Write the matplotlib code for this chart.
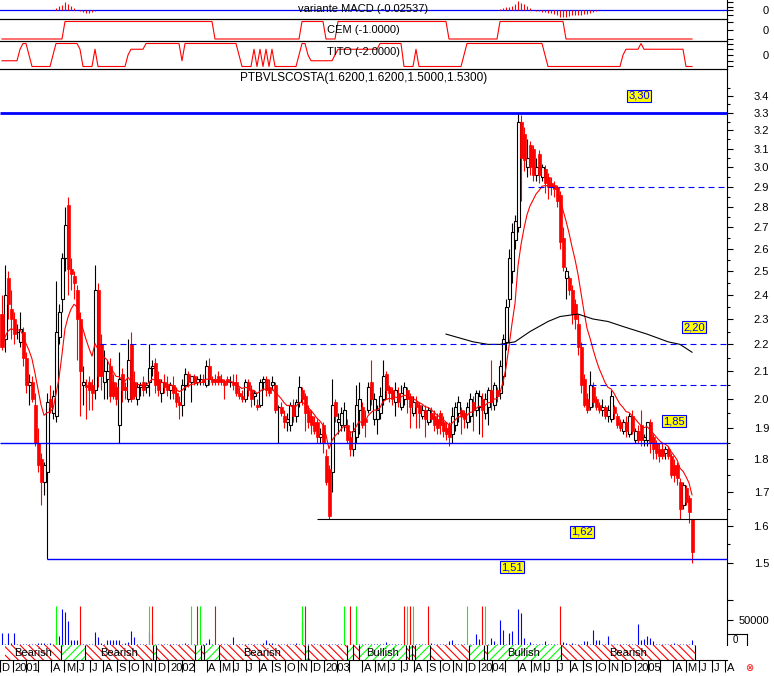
import numpy as np
import pandas as pd
import matplotlib
matplotlib.use("Agg")
import matplotlib.pyplot as plt
from matplotlib.patches import Rectangle
from matplotlib.lines import Line2D
from matplotlib.ticker import NullFormatter

plt.rcParams['font.family'] = ['Liberation Sans', 'DejaVu Sans']
plt.rcParams['hatch.linewidth'] = 0.8

W, H = 774, 676
RED, BLUE, GREEN = '#FF0000', '#0000FF', '#00FF00'

# semanas a partir de 18/12/2000 (semana 0)
start = pd.Timestamp('2000-12-18')

open_ = [
    2.32, 2.22, 2.47, 2.34, 2.30, 2.25, 2.21, 2.25, 2.15, 2.05,
    2.06, 1.98, 1.85, 1.80, 1.73, 1.76, 2.00, 1.95, 1.94, 2.23,
    2.38, 2.56, 2.81, 2.51, 2.48, 2.42, 2.30, 2.05, 2.05, 2.06,
    2.05, 2.03, 2.42, 2.20, 2.06, 2.07, 2.12, 2.06, 2.04, 1.91,
    2.09, 2.04, 2.00, 2.20, 2.06, 2.00, 2.04, 2.06, 2.04, 2.06,
    2.11, 2.13, 2.07, 2.02, 2.06, 2.05, 2.03, 2.05, 2.02, 1.99,
    1.98, 2.05, 2.09, 2.06, 2.08, 2.06, 2.07, 2.07, 2.05, 2.12,
    2.07, 2.07, 2.08, 2.07, 2.06, 2.07, 2.06, 2.06, 2.06, 2.02,
    2.01, 2.00, 2.06, 2.03, 2.01, 1.98, 1.98, 2.06, 2.07, 2.04,
    2.05, 2.05, 1.97, 1.97, 1.94, 1.92, 1.91, 1.98, 1.94, 1.99,
    2.03, 2.01, 1.96, 1.94, 1.92, 1.92, 1.87, 1.91, 1.81, 1.77,
    1.76, 1.99, 1.92, 1.91, 1.91, 1.91, 1.87, 1.83, 1.87, 1.96,
    1.97, 1.93, 1.96, 2.06, 1.93, 1.93, 1.95, 2.00, 2.09, 2.04,
    2.03, 1.99, 2.02, 1.97, 2.00, 2.03, 2.01, 1.95, 1.99, 1.98,
    1.94, 1.96, 1.92, 1.95, 1.94, 1.93, 1.95, 1.92, 1.90, 1.91,
    1.88, 1.91, 1.95, 1.96, 1.95, 1.92, 1.94, 1.99, 1.96, 1.97,
    2.00, 1.95, 1.97, 2.03, 1.98, 2.03, 2.02, 2.08, 2.21, 2.38,
    2.50, 2.64, 2.70, 3.25, 3.18, 3.00, 3.12, 3.10, 2.96, 3.07,
    2.95, 2.99, 2.95, 2.92, 2.91, 2.90, 2.86, 2.65, 2.47, 2.47,
    2.42, 2.36, 2.28, 2.19, 2.07, 2.00, 1.97, 2.04, 2.00, 1.98,
    1.96, 1.97, 1.94, 1.93, 1.97, 1.94, 1.92, 1.89, 1.92, 1.88,
    1.94, 1.86, 1.89, 1.91, 1.86, 1.86, 1.92, 1.87, 1.85, 1.83,
    1.83, 1.82, 1.83, 1.81, 1.78, 1.78, 1.73, 1.66, 1.71, 1.68,
    1.62,
]
high = [
    2.40, 2.53, 2.50, 2.42, 2.33, 2.28, 2.33, 2.27, 2.17, 2.09,
    2.08, 2.02, 1.90, 1.82, 1.79, 2.02, 2.05, 2.03, 2.46, 2.36,
    2.58, 2.80, 2.85, 2.56, 2.50, 2.44, 2.33, 2.12, 2.07, 2.08,
    2.07, 2.53, 2.45, 2.24, 2.18, 2.14, 2.15, 2.09, 2.06, 2.17,
    2.11, 2.06, 2.22, 2.25, 2.10, 2.06, 2.06, 2.08, 2.06, 2.20,
    2.14, 2.15, 2.10, 2.07, 2.09, 2.08, 2.06, 2.08, 2.04, 2.01,
    2.07, 2.11, 2.10, 2.08, 2.09, 2.08, 2.09, 2.09, 2.14, 2.15,
    2.08, 2.09, 2.10, 2.09, 2.07, 2.08, 2.08, 2.09, 2.09, 2.04,
    2.03, 2.07, 2.07, 2.05, 2.03, 2.00, 2.07, 2.08, 2.08, 2.07,
    2.08, 2.06, 1.98, 1.99, 1.96, 1.95, 1.99, 2.00, 2.00, 2.08,
    2.04, 2.02, 1.98, 1.96, 1.94, 1.93, 1.90, 1.92, 1.83, 1.78,
    2.07, 2.00, 1.95, 1.97, 1.99, 1.93, 1.89, 1.92, 2.05, 2.06,
    1.99, 1.96, 2.06, 2.14, 2.02, 1.98, 2.04, 2.14, 2.10, 2.05,
    2.04, 2.06, 2.04, 2.05, 2.06, 2.04, 2.02, 2.01, 2.01, 1.99,
    1.98, 1.98, 1.97, 1.97, 1.96, 1.95, 1.96, 1.94, 1.92, 1.92,
    1.97, 1.99, 2.01, 1.97, 1.96, 1.99, 2.02, 2.01, 2.03, 2.03,
    2.02, 2.02, 2.04, 2.14, 2.06, 2.04, 2.14, 2.24, 2.38, 2.60,
    2.72, 2.76, 3.30, 3.29, 3.22, 3.15, 3.14, 3.12, 3.05, 3.09,
    3.02, 3.01, 2.97, 2.95, 2.93, 2.91, 2.88, 2.70, 2.52, 2.48,
    2.44, 2.38, 2.32, 2.21, 2.09, 2.02, 2.10, 2.06, 2.01, 1.99,
    2.00, 1.98, 1.98, 2.03, 1.98, 1.95, 1.93, 1.93, 1.94, 1.95,
    1.96, 1.90, 1.91, 1.96, 1.88, 1.92, 1.93, 1.88, 1.86, 1.85,
    1.85, 1.84, 1.84, 1.82, 1.80, 1.79, 1.74, 1.73, 1.72, 1.69,
    1.62,
]
low = [
    2.18, 2.17, 2.30, 2.22, 2.20, 2.22, 2.19, 2.12, 2.02, 1.98,
    1.99, 1.84, 1.76, 1.66, 1.69, 1.51, 1.95, 1.93, 1.92, 2.20,
    2.33, 2.50, 2.40, 2.42, 2.38, 2.14, 1.94, 1.98, 1.93, 1.96,
    1.96, 2.00, 2.04, 2.03, 2.00, 2.00, 1.99, 2.00, 1.98, 1.85,
    1.99, 2.00, 1.99, 1.99, 2.00, 1.98, 2.01, 2.01, 2.02, 2.01,
    2.08, 2.02, 2.01, 1.99, 2.02, 2.01, 2.00, 2.00, 1.97, 1.93,
    1.94, 2.03, 2.04, 1.99, 2.05, 2.05, 2.05, 2.05, 2.04, 2.05,
    2.05, 2.05, 2.05, 2.05, 2.00, 2.05, 2.04, 2.03, 2.01, 2.00,
    1.99, 1.99, 2.01, 1.97, 1.98, 1.96, 1.97, 2.03, 2.01, 2.01,
    2.03, 1.95, 1.85, 1.94, 1.90, 1.89, 1.89, 1.92, 1.92, 1.97,
    1.98, 1.89, 1.90, 1.88, 1.88, 1.85, 1.85, 1.82, 1.72, 1.62,
    1.70, 1.92, 1.88, 1.89, 1.89, 1.85, 1.81, 1.81, 1.85, 1.88,
    1.90, 1.87, 1.95, 1.98, 1.91, 1.88, 1.93, 1.98, 2.00, 1.99,
    1.98, 1.94, 1.97, 1.96, 1.98, 1.95, 1.90, 1.94, 1.90, 1.90,
    1.93, 1.87, 1.91, 1.92, 1.89, 1.88, 1.88, 1.87, 1.86, 1.84,
    1.85, 1.89, 1.92, 1.88, 1.90, 1.90, 1.92, 1.89, 1.94, 1.88,
    1.87, 1.93, 1.91, 1.96, 1.96, 1.99, 2.00, 2.05, 2.18, 2.35,
    2.45, 2.60, 2.68, 2.83, 2.98, 2.95, 2.96, 2.93, 2.93, 2.92,
    2.93, 2.87, 2.84, 2.86, 2.85, 2.80, 2.60, 2.50, 2.38, 2.40,
    2.28, 2.26, 2.16, 2.02, 1.97, 1.95, 1.96, 1.97, 1.96, 1.95,
    1.94, 1.93, 1.92, 1.92, 1.93, 1.90, 1.89, 1.88, 1.87, 1.87,
    1.88, 1.85, 1.85, 1.84, 1.84, 1.84, 1.82, 1.80, 1.80, 1.79,
    1.80, 1.80, 1.80, 1.74, 1.73, 1.72, 1.62, 1.65, 1.66, 1.61,
    1.50,
]
close = [
    2.19, 2.40, 2.36, 2.30, 2.24, 2.25, 2.26, 2.15, 2.05, 2.06,
    2.00, 1.85, 1.78, 1.73, 1.78, 1.99, 1.97, 2.01, 2.25, 2.33,
    2.56, 2.71, 2.51, 2.49, 2.45, 2.30, 2.10, 2.06, 2.04, 2.03,
    2.02, 2.42, 2.08, 2.08, 2.10, 2.10, 2.01, 2.01, 2.00, 2.07,
    2.03, 2.03, 2.14, 2.00, 2.01, 2.04, 2.05, 2.03, 2.05, 2.11,
    2.12, 2.05, 2.03, 2.06, 2.04, 2.03, 2.05, 2.02, 1.99, 1.98,
    2.05, 2.09, 2.06, 2.08, 2.06, 2.07, 2.07, 2.06, 2.12, 2.07,
    2.06, 2.06, 2.06, 2.06, 2.05, 2.06, 2.06, 2.05, 2.02, 2.01,
    2.00, 2.06, 2.03, 2.00, 2.02, 1.97, 2.06, 2.07, 2.03, 2.02,
    2.06, 1.96, 1.97, 1.95, 1.92, 1.93, 1.98, 1.94, 1.99, 2.04,
    2.00, 1.95, 1.92, 1.91, 1.89, 1.87, 1.88, 1.85, 1.73, 1.63,
    1.98, 1.94, 1.93, 1.95, 1.96, 1.86, 1.83, 1.89, 1.98, 2.00,
    1.91, 1.92, 2.04, 2.00, 2.00, 1.96, 2.01, 2.08, 2.03, 2.02,
    2.00, 2.03, 1.99, 2.02, 2.04, 2.00, 1.97, 1.99, 1.97, 1.95,
    1.96, 1.93, 1.96, 1.93, 1.91, 1.90, 1.91, 1.89, 1.88, 1.87,
    1.94, 1.97, 1.99, 1.94, 1.93, 1.97, 2.00, 1.96, 2.02, 2.01,
    1.96, 2.00, 2.03, 1.99, 2.05, 2.01, 2.12, 2.22, 2.35, 2.56,
    2.68, 2.73, 3.25, 3.05, 3.04, 3.05, 3.00, 2.96, 3.00, 2.96,
    3.00, 2.92, 2.90, 2.90, 2.89, 2.83, 2.63, 2.52, 2.50, 2.42,
    2.32, 2.30, 2.19, 2.05, 1.98, 1.96, 2.05, 1.99, 1.97, 1.96,
    1.97, 1.94, 1.96, 2.01, 1.95, 1.91, 1.90, 1.92, 1.89, 1.94,
    1.89, 1.89, 1.86, 1.86, 1.87, 1.92, 1.85, 1.83, 1.82, 1.81,
    1.81, 1.83, 1.81, 1.75, 1.75, 1.74, 1.65, 1.72, 1.67, 1.64,
    1.53,
]
# volume semanal em milhares
volume_k = [
    24, 3, 24, 5, 25, 3, 2, 3, 2, 3,
    2, 3, 5, 5, 5, 3, 4, 3, 25, 18,
    72, 66, 48, 10, 10, 11, 3, 3, 2, 3,
    3, 27, 17, 5, 2, 10, 10, 11, 11, 11,
    3, 5, 7, 28, 17, 3, 2, 3, 3, 27,
    23, 3, 2, 3, 2, 3, 2, 3, 3, 2,
    3, 4, 3, 2, 3, 2, 3, 2, 4, 12,
    3, 2, 3, 2, 3, 2, 3, 17, 2, 3,
    2, 3, 2, 3, 2, 3, 2, 4, 11, 5,
    5, 3, 2, 3, 2, 3, 2, 3, 4, 3,
    47, 3, 2, 3, 2, 3, 2, 3, 2, 3,
    3, 2, 3, 2, 3, 0, 3, 2, 3, 2,
    3, 2, 3, 2, 3, 2, 3, 3, 7, 3,
    2, 3, 2, 3, 2, 3, 2, 3, 2, 3,
    2, 3, 2, 5, 3, 2, 3, 2, 3, 9,
    10, 3, 2, 2, 3, 3, 2, 3, 23, 13,
    3, 3, 2, 15, 9, 3, 50, 30, 3, 25,
    29, 3, 72, 65, 15, 3, 7, 3, 2, 3,
    2, 8, 3, 2, 3, 2, 3, 7, 5, 3,
    5, 3, 3, 3, 8, 8, 3, 30, 10, 10,
    3, 2, 18, 3, 2, 3, 2, 3, 2, 3,
    2, 3, 43, 11, 12, 18, 15, 8, 3, 2,
    3, 2, 3, 2, 5, 3, 2, 3, 2, 3,
    10,
]

# histograma da variante MACD (semanas com barra visivel)
macd_week = [0, 1, 2, 3, 4, 18, 19, 20, 21, 22, 23, 24, 26, 27, 28, 29, 30, 31,
             166, 167, 168, 169, 170, 171, 172, 173, 174, 175, 176,
             178, 179, 180, 181, 182, 183, 184, 185, 186, 187, 188, 189, 190,
             191, 192, 193, 194, 195, 196, 197, 198]
macd_val = [0.002, 0.002, 0.003, 0.002, 0.002, 0.008, 0.016, 0.022, 0.035, 0.025,
            0.017, 0.008, -0.004, -0.008, -0.012, -0.012, -0.008, -0.004,
            0.004, 0.008, 0.012, 0.015, 0.017, 0.025, 0.037, 0.031, 0.025, 0.018, 0.008,
            -0.003, -0.004, -0.005, -0.007, -0.009, -0.012, -0.015, -0.017, -0.025,
            -0.028, -0.025, -0.023, -0.020, -0.018, -0.017, -0.017, -0.016, -0.015,
            -0.009, -0.007, -0.004]

# CEM e TITO em (valor, n. de semanas)
cem_runs = [(-1, 21), (1, 50), (-1, 29), (1, 8), (-1, 4), (1, 37), (-1, 17), (1, 22), (-1, 43)]
tito_runs = [(-1, 6), (1, 1), (2, 2), (0, 1), (-2, 7), (0, 1), (2, 8), (1, 1), (-2, 4),
             (1, 1), (-2, 10), (0, 1), (1, 5), (2, 12), (-1, 1), (2, 18), (0, 1), (-2, 4),
             (1, 1), (-2, 1), (1, 1), (-2, 1), (1, 1), (-2, 1), (1, 1), (-2, 8), (0, 1),
             (2, 2), (0, 1), (-1, 8), (0, 1), (1, 14), (2, 8), (-2, 4), (1, 1), (-2, 15),
             (0, 1), (2, 26), (0, 1), (-2, 25), (0, 1), (1, 5), (2, 1), (1, 14), (-2, 3)]

# media longa (preta)
ma_long_week = [148, 157, 162, 166, 171, 176, 182, 186, 192, 197, 202, 207, 215, 222, 226, 230]
ma_long_val = [2.24, 2.21, 2.20, 2.20, 2.21, 2.25, 2.29, 2.31, 2.32, 2.30, 2.29, 2.27,
               2.24, 2.21, 2.20, 2.17]

# sinais compra/venda (g = bullish, r = bearish)
signal_week = [18, 26, 49, 50, 63, 65, 66, 71, 100, 101, 114, 116, 118, 134, 135, 136,
               137, 142, 155, 160, 161, 186]
signal_kind = ['g', 'r', 'g', 'r', 'g', 'r', 'g', 'r', 'g', 'r', 'g', 'r', 'g', 'r', 'g',
               'r', 'g', 'r', 'g', 'r', 'g', 'r']

price_ticks = [1.5, 1.6, 1.7, 1.8, 1.9, 2.0, 2.1, 2.2, 2.3, 2.4, 2.5, 2.6, 2.7, 2.8, 2.9,
               3.0, 3.1, 3.2, 3.3, 3.4]
label_levels = [3.30, 2.20, 1.85, 1.62, 1.51]

XMIN, XMAX = -2 / 3, 725 / 3

fig = plt.figure(figsize=(W / 100, H / 100), dpi=100)


def panel(top, bottom, left=0, right=727):
    return fig.add_axes([left / W, 1 - bottom / H, (right - left) / W, (bottom - top) / H])


def style(ax, top=False, bottom=False):
    ax.set_xlim(XMIN, XMAX)
    ax.patch.set_alpha(0)
    ax.spines['left'].set_visible(False)
    ax.spines['top'].set_visible(top)
    ax.spines['bottom'].set_visible(bottom)
    for s in ax.spines.values():
        s.set_linewidth(0.8)
    ax.set_xticks([])
    ax.yaxis.tick_right()
    ax.tick_params(axis='y', which='major', direction='out', length=4.3, width=0.8,
                   pad=26, labelsize=8)
    ax.tick_params(axis='y', which='minor', direction='out', length=2.2, width=0.8)


def right_labels(ax):
    for t in ax.get_yticklabels():
        t.set_horizontalalignment('right')


def fig_xy(x, y):
    return x / W, 1 - y / H


wk = np.arange(len(close))
o, h, l, c = map(np.array, (open_, high, low, close))

# ---- variante MACD
ax_macd = panel(0, 19)
style(ax_macd, bottom=True)
ax_macd.set_ylim(-0.0348, 0.0412)
ax_macd.axhline(0, color=BLUE, lw=0.9)
ax_macd.vlines(macd_week, 0, macd_val, color=RED, lw=0.8)
ax_macd.set_yticks([0.033, 0.013, 0, -0.019], ['', '', '0', ''])
right_labels(ax_macd)
ax_macd.text(0.5, 0.5, 'variante MACD (-0.02537)', transform=ax_macd.transAxes,
             ha='center', va='center', fontsize=8)

# ---- CEM
cem = np.repeat([v for v, n in cem_runs], [n for v, n in cem_runs])
ax_cem = panel(19, 41)
style(ax_cem, top=True, bottom=True)
ax_cem.set_ylim(-1.229, 1.286)
ax_cem.plot(wk, cem, color=RED, lw=0.8)
ax_cem.set_yticks([1, 0, -1], ['', '0', ''])
right_labels(ax_cem)
ax_cem.text(0.5, 0.5, 'CEM (-1.0000)', transform=ax_cem.transAxes,
            ha='center', va='center', fontsize=8)

# ---- TITO
tito = np.repeat([v for v, n in tito_runs], [n for v, n in tito_runs])
ax_tito = panel(41, 69)
style(ax_tito, top=True, bottom=True)
ax_tito.set_ylim(-2.435, 2.435)
ax_tito.plot(wk, tito, color=RED, lw=0.8)
ax_tito.set_yticks([2, 1, 0, -1, -2], ['', '', '0', '', ''])
right_labels(ax_tito)
ax_tito.text(0.5, 0.62, 'TITO (-2.0000)', transform=ax_tito.transAxes,
             ha='center', va='center', fontsize=8)

# ---- preco (candles semanais, escala log)
ax = panel(69, 598)
style(ax, top=True)
ax.set_yscale('log')
up = c >= o
wick_col = np.where(up, 'black', RED)
ax.vlines(wk, l, h, colors=wick_col, lw=0.8, zorder=2)
ax.bar(wk[up], c[up] - o[up], bottom=o[up], width=1.0, facecolor='white',
       edgecolor='black', lw=0.8, zorder=3)
ax.bar(wk[~up], o[~up] - c[~up], bottom=c[~up], width=1.0, facecolor=RED,
       edgecolor=RED, lw=0.5, zorder=3)
ema = pd.Series(c).ewm(span=10, adjust=False).mean()
ax.plot(wk, ema, color=RED, lw=0.8, zorder=4)
ax.plot(ma_long_week, ma_long_val, color='black', lw=0.8, zorder=4)

ax.hlines(3.30, XMIN, XMAX, color=BLUE, lw=2, zorder=5)
ax.hlines(1.85, XMIN, XMAX, color=BLUE, lw=1, zorder=5)
ax.hlines(1.51, 15, XMAX, color=BLUE, lw=1, zorder=5)
ax.hlines(1.62, 105, XMAX, color='black', lw=0.8, zorder=5)
dash = (0, (5.4, 3.6))
ax.hlines(2.20, 32.7, XMAX, color=BLUE, lw=0.8, linestyles=[dash], zorder=5)
ax.hlines(2.90, 175.3, XMAX, color=BLUE, lw=0.8, linestyles=[dash], zorder=5)
ax.hlines(2.05, 196, XMAX, color=BLUE, lw=0.8, linestyles=[dash], zorder=5)

ax.set_ylim(1.4108, 3.564)
ax.set_yticks(price_ticks, [f'{t:.1f}' for t in price_ticks])
ax.set_yticks([t + 0.05 for t in price_ticks], minor=True)
ax.yaxis.set_minor_formatter(NullFormatter())
right_labels(ax)
ax.text(0.5, 1 - 9 / 529, 'PTBVLSCOSTA({:.4f},{:.4f},{:.4f},{:.4f})'.format(o[-1], h[-1], l[-1], c[-1]),
        transform=ax.transAxes, ha='center', va='center', fontsize=8.5)

label_px = [(639, 96), (694, 327), (674, 421), (582, 532), (512, 567)]
for lv, (px, py) in zip(label_levels, label_px):
    fx, fy = fig_xy(px, py)
    fig.text(fx, fy, f'{lv:.2f}'.replace('.', ','), ha='center', va='center',
             color=BLUE, fontsize=8, zorder=10,
             bbox=dict(boxstyle='square,pad=0.12', fc='#FFFF00', ec=BLUE, lw=0.8))

# ---- volume
ax_vol = panel(598, 645)
style(ax_vol)
ax_vol.set_ylim(0, 94000)
ax_vol.vlines(wk, 0, np.array(volume_k) * 1000, color=BLUE, lw=0.8)
sig_col = [GREEN if k == 'g' else RED for k in signal_kind]
ax_vol.vlines(signal_week, 0, 78000, colors=sig_col, lw=0.8)
ax_vol.set_yticks([90000, 50000], ['', '50000'])
right_labels(ax_vol)

# ---- faixa bullish / bearish + eixo das datas
ax_band = panel(645, 660)
style(ax_band, bottom=True)
ax_band.spines['right'].set_visible(False)
ax_band.set_ylim(0, 1)
ax_band.set_yticks([])
end_week = len(close)
bounds = [XMIN] + signal_week + [end_week]
kinds = ['r'] + signal_kind
for s, e, k in zip(bounds[:-1], bounds[1:], kinds):
    col = GREEN if k == 'g' else RED
    ax_band.add_patch(Rectangle((s, 0), e - s, 1, facecolor='white', edgecolor=col,
                                hatch='////' if k == 'g' else '\\\\\\\\', lw=0))
    if e - s >= 15:
        ax_band.text((s + e) / 2, 0.45, 'Bullish' if k == 'g' else 'Bearish',
                     ha='center', va='center', fontsize=8)
ax_band.vlines(signal_week + [end_week], 0, 1, color='black', lw=0.8)

months = pd.date_range('2000-12-01', '2005-08-01', freq='MS')
month_pos = (months - start).days / 7
ax_band.set_xticks(month_pos)
ax_band.set_xticklabels([])
ax_band.tick_params(axis='x', direction='out', length=8.6, width=0.8)
for m, p in zip(months, month_pos):
    if m.month == 1:
        txt = str(m.year)
    elif m.month in (2, 3):
        continue
    else:
        txt = 'JFMAMJJASOND'[m.month - 1]
    ax_band.text(p + 0.5, -0.55, txt, transform=ax_band.get_xaxis_transform(),
                 ha='left', va='center', fontsize=8, clip_on=False)

# caixinha "0" e simbolo no canto
for (x0, y0, x1, y1) in [(727, 634, 747, 634), (747, 634, 747, 645)]:
    fx0, fy0 = fig_xy(x0, y0)
    fx1, fy1 = fig_xy(x1, y1)
    fig.add_artist(Line2D([fx0, fx1], [fy0, fy1], color='black', lw=0.8))
fig.text(*fig_xy(735, 640), '0', ha='center', va='center', fontsize=7)
fig.text(*fig_xy(749, 668), '⊗', ha='center', va='center', fontsize=7, color=RED,
         family='DejaVu Sans')

fig.savefig('out.png', dpi=100)
